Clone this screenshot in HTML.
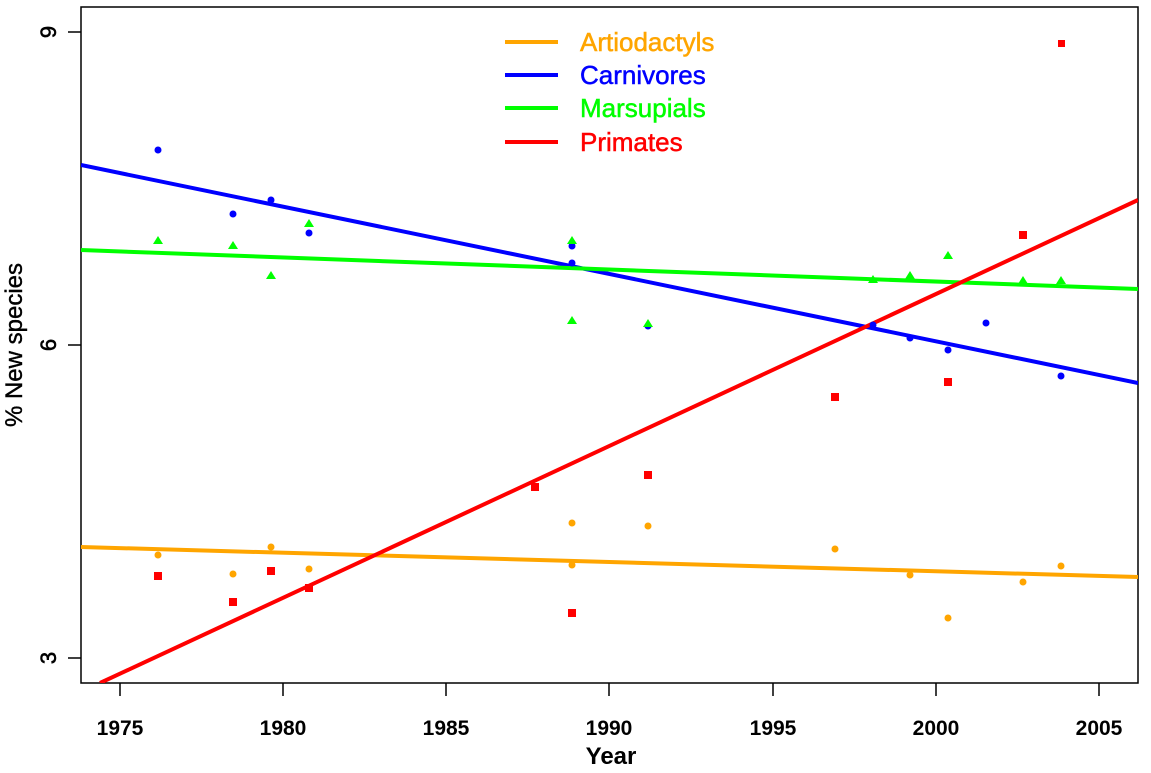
<!DOCTYPE html>
<html><head><meta charset="utf-8"><style>body{margin:0;background:#fff}</style></head><body>
<svg width="1151" height="768" xmlns="http://www.w3.org/2000/svg" font-family="Liberation Sans, sans-serif">
<rect x="81" y="7" width="1057" height="676" fill="none" stroke="#000" stroke-width="1.5"/>
<g stroke="#000" stroke-width="1.5">
<line x1="120" y1="683" x2="120" y2="696"/><line x1="283" y1="683" x2="283" y2="696"/><line x1="446" y1="683" x2="446" y2="696"/><line x1="609" y1="683" x2="609" y2="696"/><line x1="773" y1="683" x2="773" y2="696"/><line x1="936" y1="683" x2="936" y2="696"/><line x1="1099" y1="683" x2="1099" y2="696"/>
<line x1="68" y1="32" x2="81" y2="32"/><line x1="68" y1="345" x2="81" y2="345"/><line x1="68" y1="658" x2="81" y2="658"/>
</g>
<g font-size="21" font-weight="bold" text-anchor="middle">
<text x="120" y="735">1975</text><text x="283" y="735">1980</text><text x="446" y="735">1985</text><text x="609" y="735">1990</text><text x="773" y="735">1995</text><text x="936" y="735">2000</text><text x="1099" y="735">2005</text>
</g>
<g font-size="22" text-anchor="middle" stroke="#000" stroke-width="0.6">
<text transform="translate(56,32) rotate(-90)">9</text>
<text transform="translate(56,345) rotate(-90)">6</text>
<text transform="translate(56,658) rotate(-90)">3</text>
</g>
<text x="611" y="764" font-size="24" font-weight="bold" text-anchor="middle">Year</text>
<text transform="translate(22,345) rotate(-90)" font-size="24" text-anchor="middle" stroke="#000" stroke-width="0.4">% New species</text>
<defs><clipPath id="c"><rect x="81" y="7" width="1057" height="676"/></clipPath></defs>
<g clip-path="url(#c)" stroke-width="4">
<line x1="81" y1="165" x2="1138" y2="383" stroke="#0000ff"/>
<line x1="81" y1="250" x2="1138" y2="289" stroke="#00ff00"/>
<line x1="81" y1="547" x2="1138" y2="577" stroke="#ffa500"/>
<line x1="100" y1="683" x2="1138" y2="200" stroke="#ff0000"/>
</g>
<g fill="#0000ff">
<circle cx="158" cy="150" r="3.5"/><circle cx="233" cy="214" r="3.5"/><circle cx="271" cy="200" r="3.5"/><circle cx="309" cy="233" r="3.5"/><circle cx="572" cy="246" r="3.5"/><circle cx="572" cy="263" r="3.5"/><circle cx="648" cy="326" r="3.5"/><circle cx="873" cy="325" r="3.5"/><circle cx="910" cy="338" r="3.5"/><circle cx="948" cy="350" r="3.5"/><circle cx="986" cy="323" r="3.5"/><circle cx="1061" cy="376" r="3.5"/>
</g>
<g fill="#00ff00">
<path d="M158,236l5,8h-10z M233,241l5,8h-10z M271,271l5,8h-10z M309,219l5,8h-10z M572,236l5,8h-10z M572,316l5,8h-10z M648,319l5,8h-10z M873,275l5,8h-10z M910,271l5,8h-10z M948,251l5,8h-10z M1023,276l5,8h-10z M1061,276l5,8h-10z"/>
</g>
<g fill="#ffa500">
<circle cx="158" cy="555" r="3.5"/><circle cx="233" cy="574" r="3.5"/><circle cx="271" cy="547" r="3.5"/><circle cx="309" cy="569" r="3.5"/><circle cx="572" cy="523" r="3.5"/><circle cx="572" cy="565" r="3.5"/><circle cx="648" cy="526" r="3.5"/><circle cx="835" cy="549" r="3.5"/><circle cx="910" cy="575" r="3.5"/><circle cx="948" cy="618" r="3.5"/><circle cx="1023" cy="582" r="3.5"/><circle cx="1061" cy="566" r="3.5"/>
</g>
<g fill="#ff0000">
<rect x="154" y="572" width="8" height="8"/><rect x="229" y="598" width="8" height="8"/><rect x="267" y="567" width="8" height="8"/><rect x="305" y="584" width="8" height="8"/><rect x="531" y="483" width="8" height="8"/><rect x="568" y="609" width="8" height="8"/><rect x="644" y="471" width="8" height="8"/><rect x="831" y="393" width="8" height="8"/><rect x="944" y="378" width="8" height="8"/><rect x="1019" y="231" width="8" height="8"/><rect x="1058" y="40" width="7" height="7"/>
</g>
<g stroke-width="4">
<line x1="505" y1="42" x2="558" y2="42" stroke="#ffa500"/>
<line x1="505" y1="75" x2="558" y2="75" stroke="#0000ff"/>
<line x1="505" y1="108" x2="558" y2="108" stroke="#00ff00"/>
<line x1="505" y1="142" x2="558" y2="142" stroke="#ff0000"/>
</g>
<g font-size="26" stroke-width="0.5">
<text x="580" y="51" fill="#ffa500" stroke="#ffa500">Artiodactyls</text>
<text x="580" y="84" fill="#0000ff" stroke="#0000ff">Carnivores</text>
<text x="580" y="117" fill="#00ff00" stroke="#00ff00">Marsupials</text>
<text x="580" y="151" fill="#ff0000" stroke="#ff0000">Primates</text>
</g>
</svg>
</body></html>
